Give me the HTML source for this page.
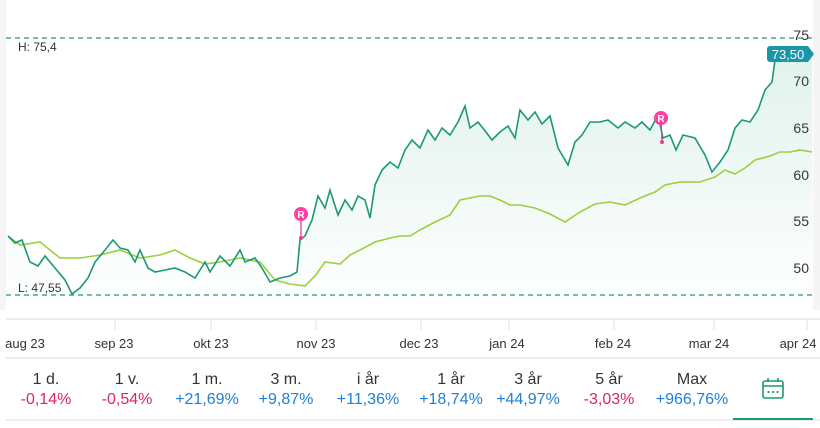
<!DOCTYPE html>
<html><head><meta charset="utf-8"><style>
body{margin:0;width:820px;height:428px;background:#fff;font-family:"Liberation Sans",sans-serif;overflow:hidden;position:relative}
.tab{position:absolute;top:370px;width:80px;text-align:center;font-size:16px;color:#333;line-height:19px}
.tab div:last-child{margin-top:1px}
.r{color:#e0245e}.b{color:#1e7fd6}
</style></head><body>
<svg width="820" height="428" style="position:absolute;left:0;top:0">
<defs><linearGradient id="g" x1="0" y1="0" x2="0" y2="1"><stop offset="0" stop-color="#1a9a74" stop-opacity="0.13"/><stop offset="1" stop-color="#1a9a74" stop-opacity="0"/></linearGradient></defs>
<rect x="0" y="0" width="6" height="310" fill="#f5f5f5"/>
<rect x="813" y="0" width="7" height="310" fill="#f5f5f5"/>
<line x1="6" y1="38" x2="813" y2="38" stroke="#1a9a74" stroke-width="1.3" stroke-dasharray="5,4"/>
<line x1="6" y1="295" x2="813" y2="295" stroke="#1a9a74" stroke-width="1.3" stroke-dasharray="5,4"/>
<text x="18" y="51" font-size="12" fill="#333">H: 75,4</text>
<text x="18" y="292" font-size="12" fill="#333">L: 47,55</text>
<g font-size="14" fill="#333" text-anchor="end"><text x="809" y="40">75</text><text x="809" y="86">70</text><text x="809" y="133">65</text><text x="809" y="180">60</text><text x="809" y="226">55</text><text x="809" y="273">50</text></g>
<path fill="url(#g)" d="M8,236 L15,243 L22,240 L30,262 L38,266 L45,256 L55,268 L65,280 L72,294 L80,288 L88,278 L95,262 L105,250 L113,240 L120,248 L128,250 L135,262 L140,250 L148,268 L155,272 L165,270 L175,268 L185,272 L195,278 L205,262 L210,272 L220,256 L230,266 L240,250 L245,262 L255,258 L262,268 L270,282 L280,278 L290,276 L297,272 L300,240 L305,236 L312,220 L318,196 L325,208 L330,190 L338,215 L345,200 L352,210 L358,196 L365,200 L370,218 L375,185 L382,170 L390,162 L398,168 L405,150 L412,140 L420,148 L428,130 L435,140 L442,128 L450,135 L458,122 L465,106 L470,128 L478,122 L486,132 L492,140 L500,132 L508,126 L515,138 L520,110 L528,120 L535,112 L542,124 L550,116 L558,148 L568,165 L575,142 L582,135 L590,122 L600,122 L608,120 L618,128 L625,122 L635,128 L642,122 L650,130 L658,115 L663,138 L670,135 L676,150 L683,135 L695,138 L705,155 L712,172 L720,162 L728,150 L735,128 L742,120 L750,122 L758,110 L765,90 L772,82 L775,60 L778,55 L812,55 L812,310 L8,310Z"/>
<polyline fill="none" stroke="#9ccf3e" stroke-width="1.6" points="8,236 20,245 40,242 60,258 80,258 100,255 120,250 140,258 160,255 175,250 190,258 205,264 220,262 240,258 260,262 275,280 290,284 305,286 315,276 325,262 340,264 350,255 360,250 375,242 390,238 400,236 410,236 420,230 435,222 450,215 460,200 470,198 480,196 490,196 500,200 510,205 520,205 535,208 550,214 565,222 580,212 595,204 610,202 625,205 640,198 655,192 665,185 680,182 700,182 715,177 725,170 735,174 745,168 755,160 770,156 780,152 790,152 800,150 812,152"/>
<polyline fill="none" stroke="#1a9a74" stroke-width="1.6" points="8,236 15,243 22,240 30,262 38,266 45,256 55,268 65,280 72,294 80,288 88,278 95,262 105,250 113,240 120,248 128,250 135,262 140,250 148,268 155,272 165,270 175,268 185,272 195,278 205,262 210,272 220,256 230,266 240,250 245,262 255,258 262,268 270,282 280,278 290,276 297,272 300,240 305,236 312,220 318,196 325,208 330,190 338,215 345,200 352,210 358,196 365,200 370,218 375,185 382,170 390,162 398,168 405,150 412,140 420,148 428,130 435,140 442,128 450,135 458,122 465,106 470,128 478,122 486,132 492,140 500,132 508,126 515,138 520,110 528,120 535,112 542,124 550,116 558,148 568,165 575,142 582,135 590,122 600,122 608,120 618,128 625,122 635,128 642,122 650,130 658,115 663,138 670,135 676,150 683,135 695,138 705,155 712,172 720,162 728,150 735,128 742,120 750,122 758,110 765,90 772,82 775,60 778,55"/>
<line x1="301" y1="214" x2="301" y2="238" stroke="#e83e8c" stroke-width="1.3"/><circle cx="301" cy="238" r="2" fill="#e83e8c"/>
<circle cx="301" cy="214" r="7" fill="#ff3ea5"/><text x="301" y="218" font-size="10" font-weight="bold" fill="#fff" text-anchor="middle">R</text>
<line x1="661" y1="118" x2="662" y2="142" stroke="#e83e8c" stroke-width="1.3"/><circle cx="662" cy="142" r="2" fill="#e83e8c"/>
<circle cx="661" cy="118" r="7" fill="#ff3ea5"/><text x="661" y="122" font-size="10" font-weight="bold" fill="#fff" text-anchor="middle">R</text>
<path d="M770,46 h38 l6,8 l-6,8 h-38 a3,3 0 0 1 -3,-3 v-10 a3,3 0 0 1 3,-3z" fill="#1996a8"/>
<text x="788" y="59" font-size="13" fill="#fff" text-anchor="middle">73,50</text>
<line x1="6" y1="319" x2="820" y2="319" stroke="#e6e6e6" stroke-width="1.5"/>
<g stroke="#e0e0e0"><line x1="115" y1="319" x2="115" y2="330"/><line x1="211" y1="319" x2="211" y2="330"/><line x1="316" y1="319" x2="316" y2="330"/><line x1="421" y1="319" x2="421" y2="330"/><line x1="509" y1="319" x2="509" y2="330"/><line x1="614" y1="319" x2="614" y2="330"/><line x1="714" y1="319" x2="714" y2="330"/><line x1="807" y1="319" x2="807" y2="330"/></g>
<g font-size="13" fill="#333" text-anchor="middle"><text x="25" y="348">aug 23</text><text x="114" y="348">sep 23</text><text x="211" y="348">okt 23</text><text x="316" y="348">nov 23</text><text x="419" y="348">dec 23</text><text x="507" y="348">jan 24</text><text x="613" y="348">feb 24</text><text x="709" y="348">mar 24</text><text x="798" y="348">apr 24</text></g>
<line x1="6" y1="358" x2="820" y2="358" stroke="#eeeeee" stroke-width="2"/>
<line x1="6" y1="420" x2="820" y2="420" stroke="#eeeeee" stroke-width="2"/>
<line x1="733" y1="419" x2="813" y2="419" stroke="#1a9a74" stroke-width="2"/>
<g stroke="#1a9a74" stroke-width="1.6" fill="none"><rect x="763" y="381" width="20" height="17" rx="2"/><line x1="763" y1="386" x2="783" y2="386"/><line x1="768" y1="378" x2="768" y2="382"/><line x1="778" y1="378" x2="778" y2="382"/></g>
<g fill="#1a9a74"><circle cx="768.5" cy="392" r="1.1"/><circle cx="773" cy="392" r="1.1"/><circle cx="777.5" cy="392" r="1.1"/></g>
</svg>
<div class="tab" style="left:6px"><div>1 d.</div><div class="r">-0,14%</div></div>
<div class="tab" style="left:87px"><div>1 v.</div><div class="r">-0,54%</div></div>
<div class="tab" style="left:167px"><div>1 m.</div><div class="b">+21,69%</div></div>
<div class="tab" style="left:246px"><div>3 m.</div><div class="b">+9,87%</div></div>
<div class="tab" style="left:328px"><div>i år</div><div class="b">+11,36%</div></div>
<div class="tab" style="left:411px"><div>1 år</div><div class="b">+18,74%</div></div>
<div class="tab" style="left:488px"><div>3 år</div><div class="b">+44,97%</div></div>
<div class="tab" style="left:569px"><div>5 år</div><div class="r">-3,03%</div></div>
<div class="tab" style="left:652px"><div>Max</div><div class="b">+966,76%</div></div>
</body></html>
